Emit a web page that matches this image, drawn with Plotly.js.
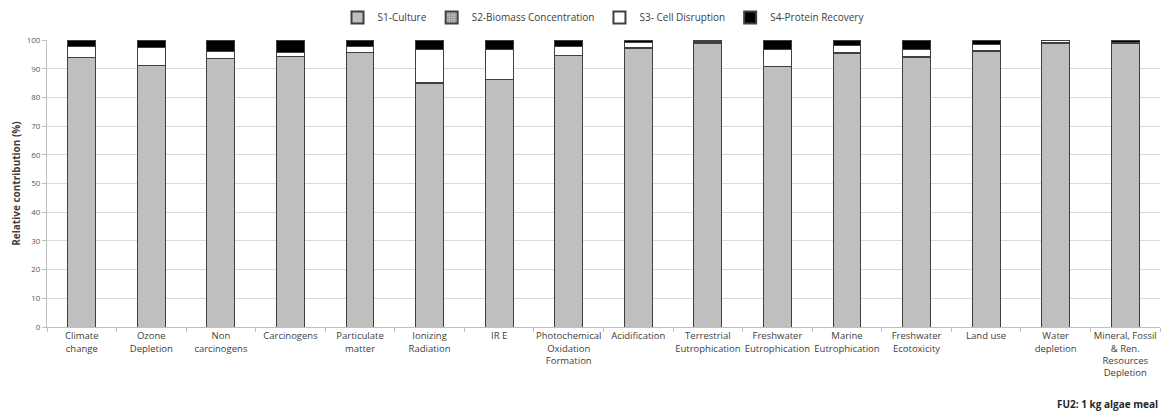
<!DOCTYPE html>
<html>
<head>
<meta charset="utf-8">
<script src="https://cdn.plot.ly/plotly-3.0.1.min.js"></script>
<style>html,body{margin:0;padding:0;background:#fff;}#chart{width:1171px;height:414px;}</style>
</head>
<body>
<div id="chart"></div>
<script>
const categories = [
  "Climate<br>change", "Ozone<br>Depletion", "Non<br>carcinogens", "Carcinogens",
  "Particulate<br>matter", "Ionizing<br>Radiation", "IR E", "Photochemical<br>Oxidation<br>Formation",
  "Acidification", "Terrestrial<br>Eutrophication", "Freshwater<br>Eutrophication", "Marine<br>Eutrophication",
  "Freshwater<br>Ecotoxicity", "Land use", "Water<br>depletion", "Mineral, Fossil<br>& Ren.<br>Resources<br>Depletion"
];
const s1Culture   = [93.8, 91.0, 93.4, 94.3, 95.7, 85.0, 86.1, 94.6, 97.2, 98.8, 90.6, 95.4, 94.0, 96.1, 98.9, 98.9];
const s2Biomass   = [0.1, 0.1, 0.1, 0.1, 0.1, 0.1, 0.1, 0.1, 0.1, 0.2, 0.1, 0.1, 0.1, 0.1, 0.1, 0.1];
const s3Disrupt   = [3.9, 6.3, 2.5, 1.1, 2.0, 11.6, 10.5, 3.0, 1.9, 0.6, 6.0, 2.5, 2.5, 2.1, 0.7, 0.0];
const s4Recovery  = [2.2, 2.6, 4.0, 4.5, 2.2, 3.3, 3.3, 2.3, 0.8, 0.4, 3.3, 2.0, 3.4, 1.7, 0.3, 1.0];

const outline = {color: '#404040', width: 1};
const traces = [
  {name: 'S1-Culture', y: s1Culture, marker: {color: '#bfbfbf', line: outline}},
  {name: 'S2-Biomass Concentration', y: s2Biomass, marker: {color: '#ffffff', line: outline, pattern: {shape: '.', fgcolor: '#808080', bgcolor: '#d9d9d9', size: 3, solidity: 0.5}}},
  {name: 'S3- Cell Disruption', y: s3Disrupt, marker: {color: '#ffffff', line: outline}},
  {name: 'S4-Protein Recovery', y: s4Recovery, marker: {color: '#000000', line: outline}}
].map(t => Object.assign({type: 'bar', x: categories, hoverinfo: 'skip'}, t));

const layout = {
  width: 1171, height: 414,
  margin: {l: 47, r: 11, t: 40, b: 87, autoexpand: false},
  barmode: 'stack',
  bargap: 0.6,
  paper_bgcolor: '#fff', plot_bgcolor: '#fff',
  font: {family: 'Open Sans, Noto Sans, sans-serif', size: 9, color: '#404040'},
  showlegend: true,
  legend: {orientation: 'h', x: 0.5, xanchor: 'center', xref: 'paper', y: 0.958, yanchor: 'middle', yref: 'container',
           font: {size: 10, color: '#404040'}, traceorder: 'normal', itemwidth: 20, itemsizing: 'constant'},
  xaxis: {
    type: 'category', tickson: 'boundaries', ticks: 'outside', ticklen: 4, tickcolor: '#bfbfbf',
    showline: true, linecolor: '#bfbfbf', linewidth: 1, showgrid: false,
    tickfont: {size: 9.5, color: '#404040'}, tickangle: 0, automargin: false
  },
  yaxis: {
    range: [0, 100], dtick: 10, tick0: 0, showgrid: true, gridcolor: '#d9d9d9', gridwidth: 1,
    showline: true, linecolor: '#bfbfbf', ticks: 'outside', ticklen: 4, tickcolor: '#bfbfbf',
    tickfont: {size: 8, color: '#595959'}, zeroline: false, automargin: false,
    title: {text: '<b>Relative contribution (%)</b>', font: {size: 10, color: '#404040'}, standoff: 4}
  },
  annotations: [{
    text: '<b>FU2: 1 kg algae meal</b>', xref: 'paper', yref: 'paper', x: 1, y: -0.268,
    xanchor: 'right', yanchor: 'middle', showarrow: false, font: {size: 10, color: '#262626'}
  }]
};

Plotly.newPlot('chart', traces, layout, {staticPlot: true, displayModeBar: false});
</script>
</body>
</html>
